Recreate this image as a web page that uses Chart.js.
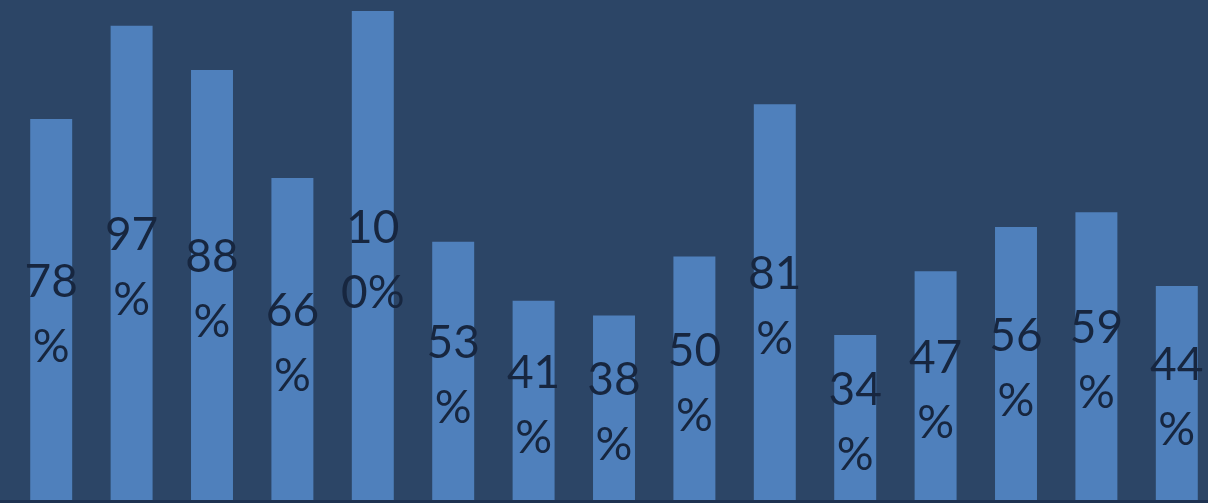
<!DOCTYPE html>
<html>
<head>
<meta charset="utf-8">
<script src="https://cdn.jsdelivr.net/npm/chart.js@4.4.1/dist/chart.umd.min.js"></script>
<style>
  html, body { margin: 0; padding: 0; background: #2c4566; overflow: hidden; }
  #wrap { position: relative; width: 1218px; height: 503px; }
</style>
</head>
<body>
<div id="wrap"><canvas id="c"></canvas></div>
<script>
const categories = ["1","2","3","4","5","6","7","8","9","10","11","12","13","14","15"];
const values = [78, 97, 88, 66, 100, 53, 41, 38, 50, 81, 34, 47, 56, 59, 44];
const yTicks = [0, 100];

const labelPlugin = {
  id: 'barLabels',
  afterDatasetsDraw(chart) {
    const ctx = chart.ctx;
    const meta = chart.getDatasetMeta(0);
    ctx.save();
    ctx.font = '46px Lato';
    ctx.fillStyle = '#17263f';
    ctx.textAlign = 'center';
    ctx.textBaseline = 'middle';
    const lineH = 65;
    meta.data.forEach((bar, i) => {
      const txt = values[i] + '%';
      const lines = [];
      for (let k = 0; k < txt.length; k += 2) lines.push(txt.slice(k, k + 2));
      const cy = (bar.y + bar.base) / 2 + 4;
      const start = cy - (lines.length - 1) * lineH / 2;
      lines.forEach((ln, j) => ctx.fillText(ln, bar.x, start + j * lineH));
    });
    // bottom baseline
    const a = chart.chartArea;
    ctx.fillStyle = '#1f3352';
    ctx.fillRect(0, a.bottom - 2, chart.width, 3);
    ctx.restore();
  }
};

new Chart(document.getElementById('c'), {
  type: 'bar',
  data: {
    labels: categories,
    datasets: [{
      data: values,
      backgroundColor: '#4f80bc',
      borderWidth: 0,
      categoryPercentage: 1.0,
      barPercentage: 0.522
    }]
  },
  options: {
    responsive: true,
    maintainAspectRatio: false,
    animation: false,
    layout: { padding: { left: 11, right: 1, top: 11, bottom: 1 } },
    plugins: { legend: { display: false }, tooltip: { enabled: false } },
    scales: {
      x: { display: false },
      y: { display: false, min: yTicks[0], max: yTicks[1] }
    }
  },
  plugins: [labelPlugin]
});
</script>
</body>
</html>
